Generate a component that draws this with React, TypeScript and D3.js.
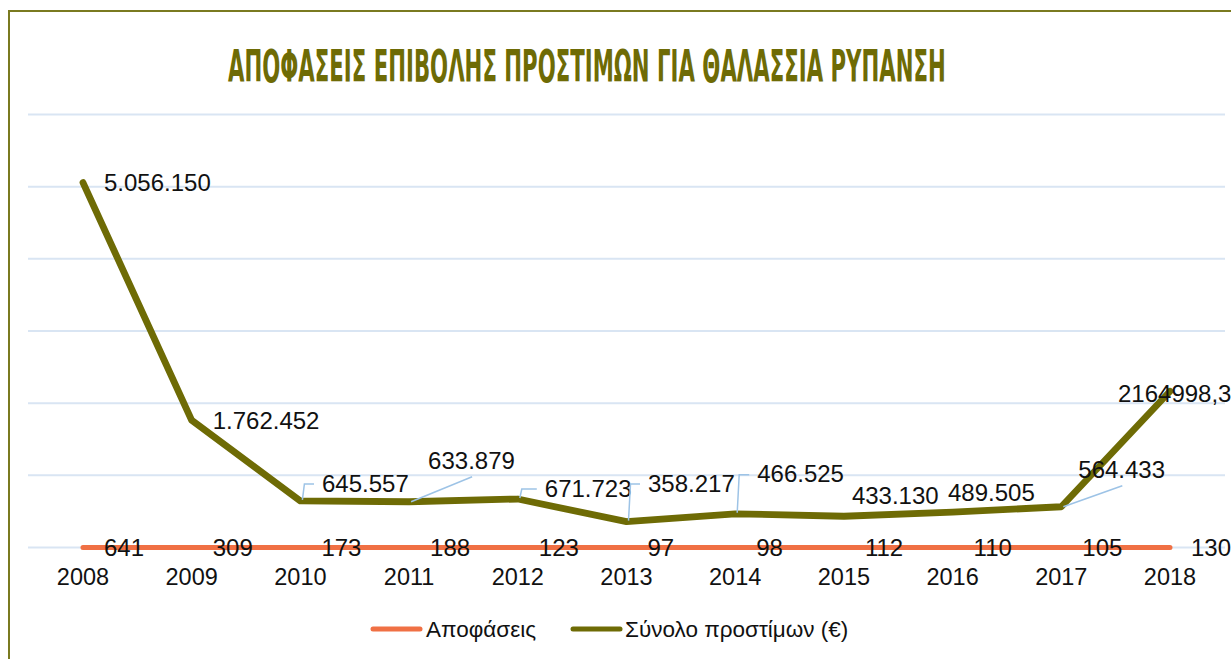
import React, { useEffect, useLayoutEffect, useRef, useState } from "react";
import * as d3 from "d3";

const years = ["2008", "2009", "2010", "2011", "2012", "2013", "2014", "2015", "2016", "2017", "2018"];
const decisions = [641, 309, 173, 188, 123, 97, 98, 112, 110, 105, 130];
const fines = [5056150, 1762452, 645557, 633879, 671723, 358217, 466525, 433130, 489505, 564433, 2164998.3];
const fineFormats = [",.0f", ",.0f", ",.0f", ",.0f", ",.0f", ",.0f", ",.0f", ",.0f", ",.0f", ",.0f", ".1f"];
const yTicks = [0, 1000000, 2000000, 3000000, 4000000, 5000000, 6000000];
const seriesNames = ["Αποφάσεις", "Σύνολο προστίμων (€)"];
const title = "ΑΠΟΦΑΣΕΙΣ ΕΠΙΒΟΛΗΣ ΠΡΟΣΤΙΜΩΝ ΓΙΑ ΘΑΛΑΣΣΙΑ ΡΥΠΑΝΣΗ";

// manual label placements (layout only)
const fineLabelPos = [
  { dx: 21, dy: 0, leader: "none" },
  { dx: 21, dy: 0, leader: "none" },
  { dx: 21.6, dy: -18, leader: "elbow" },
  { dx: 19, dy: -41, leader: "diag" },
  { dx: 27, dy: -11, leader: "elbow" },
  { dx: 21.5, dy: -38.6, leader: "elbow" },
  { dx: 22, dy: -40, leader: "elbow" },
  { dx: 8, dy: -21, leader: "none" },
  { dx: -4.6, dy: -20, leader: "none" },
  { dx: 17, dy: -37, leader: "diag" },
  { dx: -52, dy: 2, leader: "none" },
];

const ORANGE = "#F07044";
const OLIVE = "#6E6B05";
const GRID = "#D9E5F3";
const LEADER = "#9DC3E6";
const TEXT = "#111";
const FS = 24;
const AXFS = 23.5;
const LGFS = 22.5;

const TITLE_X = 228;
const TITLE_W = 718;

const loc = d3.formatLocale({ decimal: ",", thousands: ".", grouping: [3], currency: ["", "€"] });

export default function App() {
  const titleRef = useRef<SVGTextElement>(null);
  const [sx, setSx] = useState(0.62);

  useEffect(() => {
    document.body.style.margin = "0";
  }, []);

  useLayoutEffect(() => {
    if (titleRef.current) {
      const w = titleRef.current.getComputedTextLength();
      if (w > 0) setSx(TITLE_W / w);
    }
  }, []);

  const x = d3.scalePoint<string>().domain(years).range([83, 1170]);
  const y = d3.scaleLinear().domain([0, 6000000]).range([547.5, 114.5]);

  const line = d3
    .line<number>()
    .x((_, i) => x(years[i]) as number)
    .y((d) => y(d));

  const fineLabels = fines.map((v, i) => loc.format(fineFormats[i])(v));

  return (
    <svg width={1231} height={659} style={{ display: "block" }} fontFamily="'Liberation Sans', Arial, sans-serif">
      <rect x={0} y={0} width={1231} height={659} fill="#fff" />
      <rect x={9} y={11} width={1400} height={800} fill="#fff" stroke="#7A7A20" strokeWidth={2} />
      <g transform={`translate(${TITLE_X},82) scale(${sx},1)`}>
        <text
          ref={titleRef}
          x={0}
          y={0}
          fontFamily="'DejaVu Sans Condensed', 'DejaVu Sans', sans-serif"
          fontWeight="bold"
          fontSize={44}
          fill={OLIVE}
        >
          {title}
        </text>
      </g>

      {yTicks.map((t) => (
        <line key={t} x1={28} x2={1225} y1={y(t)} y2={y(t)} stroke={GRID} strokeWidth={2} />
      ))}

      <path d={line(decisions) || ""} fill="none" stroke={ORANGE} strokeWidth={5} strokeLinecap="round" strokeLinejoin="round" />
      <path d={line(fines) || ""} fill="none" stroke={OLIVE} strokeWidth={6.8} strokeLinecap="round" strokeLinejoin="round" />

      {fines.map((v, i) => {
        const px = x(years[i]) as number;
        const py = y(v);
        const p = fineLabelPos[i];
        const tx = px + p.dx;
        const cy = py + p.dy;
        let leader = null;
        if (p.leader === "elbow") {
          leader = (
            <polyline
              points={`${px + 2},${py - 1} ${px + 4},${cy + 1} ${tx - 8},${cy + 1}`}
              fill="none"
              stroke={LEADER}
              strokeWidth={1.5}
            />
          );
        } else if (p.leader === "diag") {
          leader = <line x1={px + 2} y1={py} x2={tx + 44} y2={cy + 16} stroke={LEADER} strokeWidth={1.5} />;
        }
        return (
          <g key={"f" + i}>
            {leader}
            <text x={tx} y={cy + 8.6} fontSize={FS} fill={TEXT}>
              {fineLabels[i]}
            </text>
          </g>
        );
      })}

      {decisions.map((v, i) => {
        const px = x(years[i]) as number;
        const py = y(v);
        return (
          <text key={"d" + i} x={px + 21} y={py + 8.8} fontSize={FS} fill={TEXT}>
            {loc.format(",.0f")(v)}
          </text>
        );
      })}

      {years.map((yr) => (
        <text key={yr} x={x(yr) as number} y={584.5} fontSize={AXFS} fill={TEXT} textAnchor="middle">
          {yr}
        </text>
      ))}

      <g>
        <line x1={373} x2={420} y1={629} y2={629} stroke={ORANGE} strokeWidth={5} strokeLinecap="round" />
        <text x={426} y={637} fontSize={LGFS} fill={TEXT}>
          {seriesNames[0]}
        </text>
        <line x1={573} x2={620} y1={629} y2={629} stroke={OLIVE} strokeWidth={5} strokeLinecap="round" />
        <text x={625} y={637} fontSize={LGFS} fill={TEXT}>
          {seriesNames[1]}
        </text>
      </g>
    </svg>
  );
}
